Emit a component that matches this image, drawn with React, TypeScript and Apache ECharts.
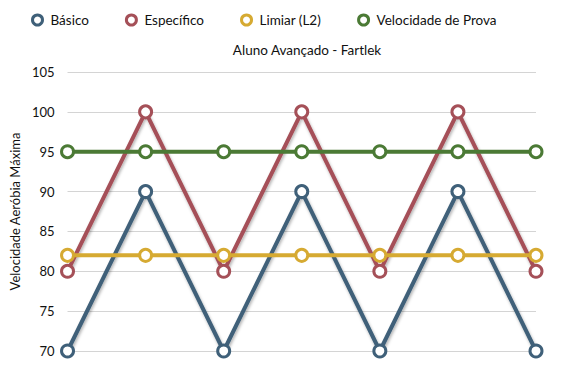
import React, { useEffect, useRef } from "react";
import * as echarts from "echarts";

const categories = ["1", "2", "3", "4", "5", "6", "7"];
const basico = [70, 90, 70, 90, 70, 90, 70];
const especifico = [80, 100, 80, 100, 80, 100, 80];
const limiar = [82, 82, 82, 82, 82, 82, 82];
const velocidadeProva = [95, 95, 95, 95, 95, 95, 95];
const seriesNames = ["Básico", "Específico", "Limiar (L2)", "Velocidade de Prova"];
const colors = ["#3f6079", "#a55058", "#d6aa32", "#4b7a35"];

export default function App() {
  const ref = useRef<HTMLDivElement>(null);
  useEffect(() => {
    if (!ref.current) return;
    const chart = echarts.init(ref.current, undefined, { renderer: "svg" });
    const font = "Lato, 'Noto Sans', sans-serif";
    const dataSets = [basico, especifico, limiar, velocidadeProva];
    const flat = [false, false, true, true];
    chart.setOption({
      animation: false,
      textStyle: { fontFamily: font },
      title: {
        text: "Aluno Avançado - Fartlek",
        left: 302,
        top: 38,
        textAlign: "center",
        textStyle: { fontSize: 13.5, fontWeight: "normal", color: "#111", fontFamily: font },
      },
      legend: {
        top: 8,
        left: 26,
        itemGap: 36,
        itemWidth: 16,
        itemHeight: 10,
        textStyle: { fontSize: 13.5, color: "#111", fontFamily: font },
        data: seriesNames.map((name, i) => ({
          name,
          icon: "circle",
          itemStyle: { color: "#ffffff", borderColor: colors[i], borderWidth: 3 },
        })),
      },
      grid: { left: 65, right: 31, top: 72, bottom: 21, containLabel: false },
      xAxis: {
        type: "category",
        data: categories,
        boundaryGap: false,
        axisLine: { show: false },
        axisTick: { show: false },
        axisLabel: { show: false },
        splitLine: { show: false },
      },
      yAxis: {
        type: "value",
        min: 70,
        max: 105,
        interval: 5,
        name: "Velocidade Aeróbia Máxima",
        nameLocation: "middle",
        nameRotate: 90,
        nameGap: 44,
        nameTextStyle: { fontSize: 13, color: "#111", fontFamily: font },
        axisLine: { show: false },
        axisTick: { show: false },
        axisLabel: { fontSize: 13, color: "#111", margin: 13, fontFamily: font },
        splitLine: { lineStyle: { color: "#d4d4d4", width: 1 } },
      },
      series: seriesNames.map((name, i) => ({
        name,
        type: "line",
        data: dataSets[i],
        symbol: "circle",
        symbolSize: 12,
        color: colors[i],
        lineStyle: flat[i]
          ? { width: 4, color: colors[i] }
          : {
              width: 4,
              color: colors[i],
              shadowColor: "rgba(0,0,0,0.3)",
              shadowBlur: 3,
              shadowOffsetX: 1,
              shadowOffsetY: 2,
            },
        itemStyle: {
          color: "#ffffff",
          borderColor: colors[i],
          borderWidth: 3,
        },
        z: [1, 2, 3, 4][i],
      })),
    });
    return () => chart.dispose();
  }, []);
  return <div ref={ref} style={{ width: 567, height: 372, margin: -8 }} />;
}
